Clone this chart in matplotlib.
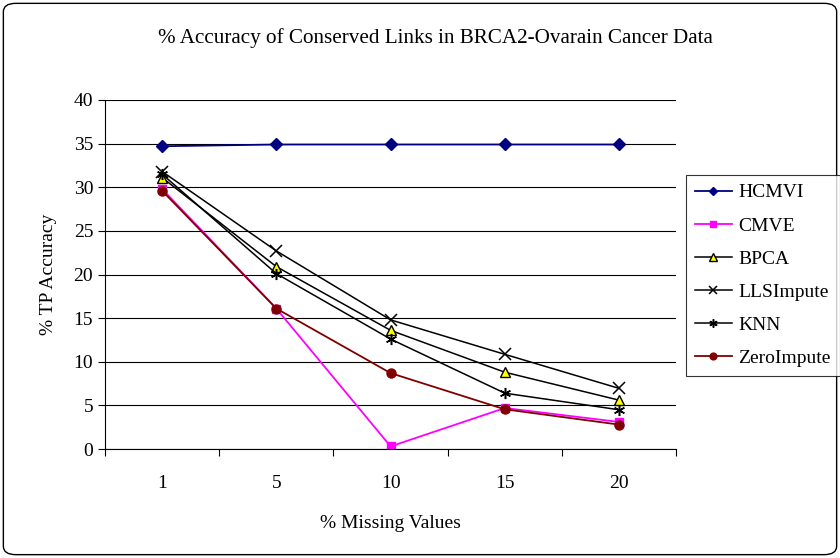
import numpy as np
import matplotlib as mpl
mpl.use('Agg')
import matplotlib.pyplot as plt
from matplotlib.patches import FancyBboxPatch

mpl.rcParams['font.family'] = ['Liberation Serif', 'DejaVu Serif']

#=================Data=====================
missing = ['1', '5', '10', '15', '20']
hcmvi = [34.7, 34.9, 34.9, 34.9, 34.9]
cmve = [29.8, 16.1, 0.3, 4.7, 3.1]
bpca = [31.1, 20.9, 13.6, 8.8, 5.6]
llsimpute = [31.8, 22.7, 14.8, 10.85, 6.95]
knn = [31.5, 20.1, 12.6, 6.4, 4.5]
zeroimpute = [29.6, 16.1, 8.7, 4.55, 2.8]

title = '% Accuracy of Conserved Links in BRCA2-Ovarain Cancer Data'

#=================Plotting=====================
fig = plt.figure(figsize=(8.4, 5.58), dpi=100)
ax = fig.add_axes([0.125, 0.1953, 0.68, 0.6255])

x = np.arange(len(missing))
ax.plot(x, hcmvi, color='#000080', marker='D', ms=6, lw=1.3, label='HCMVI')
ax.plot(x, cmve, color='#FF00FF', marker='s', ms=6, lw=1.3, label='CMVE')
ax.plot(x, bpca, color='k', marker='^', ms=7, mfc='#FFFF00', mec='k', lw=1.1, label='BPCA')
ax.plot(x, llsimpute, color='k', marker='x', ms=8, mew=1.1, lw=1.1, label='LLSImpute')
ax.plot(x, knn, color='k', marker=(6, 2, 0), ms=8, mew=1.1, lw=1.1, label='KNN')
ax.plot(x, zeroimpute, color='#800000', marker='o', ms=6.5, lw=1.3, label='ZeroImpute')

ax.set_xlim(-0.5, len(missing) - 0.5)
ax.set_ylim(0, 40)
ax.set_yticks(range(0, 41, 5))
ax.set_xticks(x)
ax.set_xticklabels(missing)
ax.set_xticks(np.arange(-0.5, len(missing), 1.0), minor=True)
ax.tick_params(axis='x', which='major', length=0, labelsize=14, pad=19)
ax.tick_params(axis='x', which='minor', length=5, width=0.8, direction='out')
ax.tick_params(axis='y', length=5, width=0.8, direction='out', labelsize=14)
ax.grid(axis='y', color='k', lw=0.8)
ax.set_axisbelow(True)
for s in ['top', 'right']:
    ax.spines[s].set_visible(False)
ax.spines['left'].set_linewidth(0.8)
ax.spines['bottom'].set_linewidth(0.8)

ax.set_xlabel('% Missing Values', fontsize=14, labelpad=16)
ax.set_ylabel('% TP Accuracy', fontsize=14, labelpad=12)
fig.text(0.518, 0.932, title, ha='center', va='center', fontsize=15.2)

leg = fig.legend(*ax.get_legend_handles_labels(), loc='upper left',
                 bbox_to_anchor=(0.8167, 0.6864), bbox_transform=fig.transFigure,
                 borderaxespad=0, fontsize=14, markerscale=0.75,
                 frameon=True, fancybox=False, edgecolor='k', borderpad=0.45,
                 handlelength=1.9, handletextpad=0.35, labelspacing=0.8)
leg.get_frame().set_linewidth(0.8)

border = FancyBboxPatch((0.004, 0.006), 0.992, 0.988, boxstyle='round,pad=0,rounding_size=0.015',
                        transform=fig.transFigure, fill=False, edgecolor='k', lw=1.0)
fig.patches.append(border)

plt.savefig('out.png', dpi=100)
